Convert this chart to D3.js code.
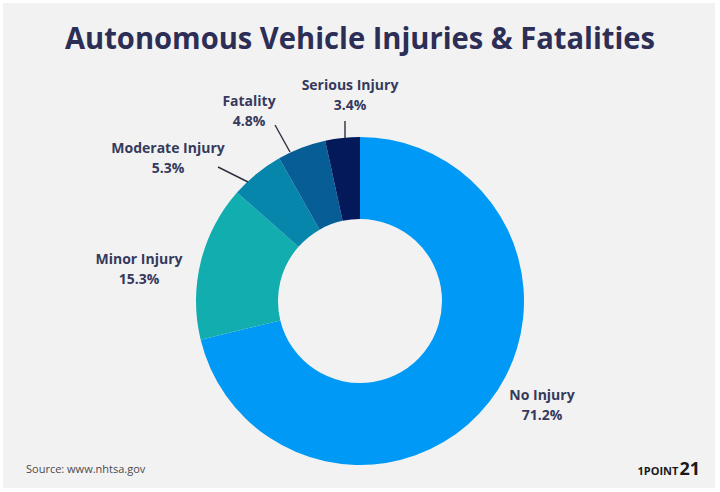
<!DOCTYPE html>
<html>
<head>
<meta charset="utf-8">
<script src="https://cdn.jsdelivr.net/npm/d3@7"></script>
<style>
  html, body { margin: 0; padding: 0; background: #ffffff; }
  svg { display: block; }
  text { font-family: "Open Sans", "Noto Sans", sans-serif; }
</style>
</head>
<body>
<div id="chart-area"></div>
<script>
// Chart data, clockwise from 12 o'clock
const categories = ["No Injury", "Minor Injury", "Moderate Injury", "Fatality", "Serious Injury"];
const shares = [71.2, 15.3, 5.3, 4.8, 3.4];
const sliceColors = ["#0099f5", "#12adae", "#0786ab", "#075d96", "#03195a"];

const width = 720;
const height = 492;

const svg = d3.select("#chart-area")
    .append("svg")
    .attr("width", width)
    .attr("height", height);

// light grey card
svg.append("rect")
    .attr("x", 3).attr("y", 3)
    .attr("width", 712).attr("height", 485)
    .attr("fill", "#f2f2f2");

// title
svg.append("text")
    .attr("x", 360)
    .attr("y", 49)
    .attr("text-anchor", "middle")
    .attr("fill", "#2c2e55")
    .attr("font-weight", 700)
    .attr("font-size", 30)
    .attr("textLength", 590)
    .attr("lengthAdjust", "spacingAndGlyphs")
    .text("Autonomous Vehicle Injuries & Fatalities");

const cx = 360, cy = 301;
const outerR = 164, innerR = 82;

const color = d3.scaleOrdinal().domain(categories).range(sliceColors);

const pie = d3.pie()
    .value(d => d.value)
    .sort(null);

const arcs = pie(categories.map((c, i) => ({ name: c, value: shares[i] })));

const arc = d3.arc()
    .innerRadius(innerR)
    .outerRadius(outerR);

const g = svg.append("g")
    .attr("transform", `translate(${cx},${cy})`);

g.selectAll("path.slice")
    .data(arcs)
    .enter()
    .append("path")
    .attr("class", "slice")
    .attr("d", arc)
    .attr("fill", d => color(d.data.name));

// label placement (offsets from the chart centre) and leader lines
const labelPos = {
    "No Injury":       { x: 182, y: 99,  line: null },
    "Minor Injury":    { x: -221, y: -37, line: null },
    "Moderate Injury": { x: -192, y: -148, line: [-142, -134, -112, -119] },
    "Fatality":        { x: -111, y: -195, line: [-85, -176, -70, -149] },
    "Serious Injury":  { x: -10, y: -211, line: [-15, -180, -15, -163] }
};

const labels = g.selectAll("g.label")
    .data(arcs)
    .enter()
    .append("g")
    .attr("class", "label");

labels.each(function(d) {
    const p = labelPos[d.data.name];
    const sel = d3.select(this);
    if (p.line) {
        sel.append("line")
            .attr("x1", p.line[0]).attr("y1", p.line[1])
            .attr("x2", p.line[2]).attr("y2", p.line[3])
            .attr("stroke", "#2e2e3e")
            .attr("stroke-width", 1.4);
    }
    const t = sel.append("text")
        .attr("text-anchor", "middle")
        .attr("fill", "#363a5c")
        .attr("font-weight", 700)
        .attr("font-size", 14);
    t.append("tspan")
        .attr("x", p.x).attr("y", p.y)
        .text(d.data.name);
    t.append("tspan")
        .attr("x", p.x).attr("y", p.y + 20)
        .text(d3.format(".1f")(d.data.value) + "%");
});

// footer
svg.append("text")
    .attr("x", 26)
    .attr("y", 473)
    .attr("fill", "#4a4a4a")
    .attr("font-size", 11)
    .text("Source: www.nhtsa.gov");

const logo = svg.append("text")
    .attr("x", 700)
    .attr("y", 475)
    .attr("text-anchor", "end")
    .attr("fill", "#1a1a1a")
    .attr("font-family", "'DejaVu Sans Condensed', 'DejaVu Sans', sans-serif")
    .attr("font-weight", 700);
logo.append("tspan").attr("font-size", 11).text("1POINT");
logo.append("tspan").attr("font-size", 18).attr("dx", 1).text("21");
</script>
</body>
</html>
